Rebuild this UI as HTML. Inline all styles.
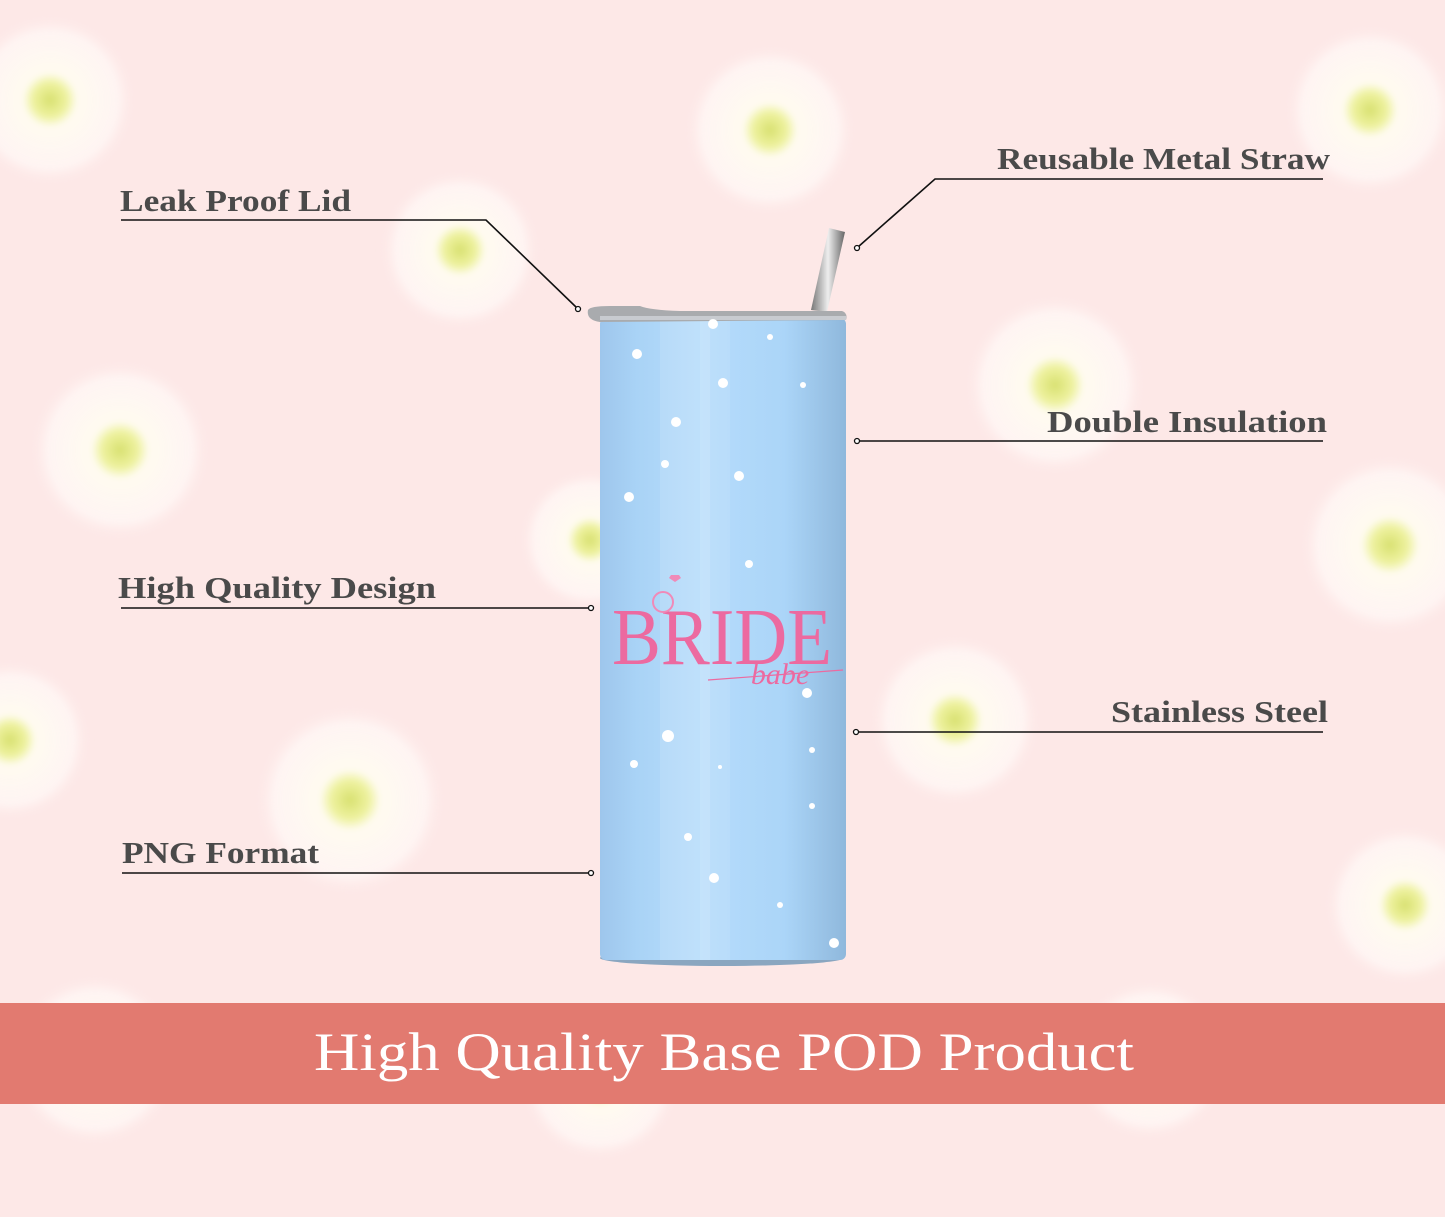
<!DOCTYPE html>
<html><head><meta charset="utf-8"><style>
html,body{margin:0;padding:0}
body{width:1445px;height:1217px;overflow:hidden;background:#fde8e7;position:relative;font-family:"Liberation Serif",serif}
svg{position:absolute;left:0;top:0}
</style></head><body>
<svg width="1445" height="1217" viewBox="0 0 1445 1217">
<defs>
<radialGradient id="fl">
<stop offset="0" stop-color="#d8e070"/>
<stop offset="0.2" stop-color="#eef2a0"/>
<stop offset="0.32" stop-color="#fffbf0"/>
<stop offset="0.8" stop-color="#fff6f4" stop-opacity="0.9"/>
<stop offset="1" stop-color="#fde8e7" stop-opacity="0"/>
</radialGradient>
<linearGradient id="body" x1="0" x2="1">
<stop offset="0" stop-color="#9ec6ec"/>
<stop offset="0.15" stop-color="#a9d3f6"/>
<stop offset="0.4" stop-color="#b6dcfb"/>
<stop offset="0.75" stop-color="#abd5f8"/>
<stop offset="1" stop-color="#8fb8dc"/>
</linearGradient>
<linearGradient id="straw" x1="0" x2="1">
<stop offset="0" stop-color="#777"/><stop offset="0.5" stop-color="#eee"/><stop offset="1" stop-color="#666"/>
</linearGradient>
<filter id="b"><feGaussianBlur stdDeviation="3"/></filter>
</defs>
<g filter="url(#b)">
<circle cx="50" cy="100" r="85" fill="url(#fl)"/>
<circle cx="770" cy="130" r="85" fill="url(#fl)"/>
<circle cx="1370" cy="110" r="85" fill="url(#fl)"/>
<circle cx="460" cy="250" r="80" fill="url(#fl)"/>
<circle cx="120" cy="450" r="90" fill="url(#fl)"/>
<circle cx="1055" cy="385" r="90" fill="url(#fl)"/>
<circle cx="1390" cy="545" r="90" fill="url(#fl)"/>
<circle cx="590" cy="540" r="70" fill="url(#fl)"/>
<circle cx="10" cy="740" r="80" fill="url(#fl)"/>
<circle cx="350" cy="800" r="95" fill="url(#fl)"/>
<circle cx="955" cy="720" r="85" fill="url(#fl)"/>
<circle cx="1405" cy="905" r="80" fill="url(#fl)"/>
<circle cx="95" cy="1060" r="85" fill="url(#fl)"/>
<circle cx="600" cy="1080" r="80" fill="url(#fl)"/>
<circle cx="1150" cy="1060" r="80" fill="url(#fl)"/>
</g>
<!-- straw -->
<polygon points="829,228 845,232 827,312 811,310" fill="url(#straw)"/>
<!-- body -->
<ellipse cx="722" cy="958" rx="122" ry="8" fill="#8aa6c0"/>
<rect x="600" y="318" width="246" height="642" rx="6" fill="url(#body)"/>
<rect x="660" y="318" width="50" height="642" fill="#fff" opacity="0.12"/>
<rect x="700" y="318" width="30" height="642" fill="#fff" opacity="0.1"/>
<!-- lid -->
<path d="M588,310 Q590,306 610,306 L640,306 Q650,310 680,311 L842,311 Q848,313 846,320 L600,322 Q586,320 588,310Z" fill="#a9abae"/>
<rect x="600" y="316" width="246" height="4" fill="#c8cbd0"/>
<!-- hearts -->
<g fill="#fff">
<circle cx="637" cy="354" r="5"/><circle cx="723" cy="383" r="5"/><circle cx="676" cy="422" r="5"/>
<circle cx="665" cy="464" r="4"/><circle cx="739" cy="476" r="5"/><circle cx="629" cy="497" r="5"/>
<circle cx="749" cy="564" r="4"/><circle cx="770" cy="337" r="3"/><circle cx="803" cy="385" r="3"/>
<circle cx="713" cy="324" r="5"/><circle cx="807" cy="693" r="5"/><circle cx="668" cy="736" r="6"/>
<circle cx="634" cy="764" r="4"/><circle cx="812" cy="750" r="3"/><circle cx="720" cy="767" r="2"/>
<circle cx="688" cy="837" r="4"/><circle cx="714" cy="878" r="5"/><circle cx="780" cy="905" r="3"/>
<circle cx="812" cy="806" r="3"/><circle cx="834" cy="943" r="5"/>
</g>
<!-- Bride text -->
<text x="722" y="664" text-anchor="middle" font-family="Liberation Serif,serif" font-size="80" fill="#ec6aa0" textLength="220" lengthAdjust="spacingAndGlyphs">BRIDE</text>
<text x="780" y="684" text-anchor="middle" font-family="Liberation Serif,serif" font-style="italic" font-size="30" fill="#ec6aa0">babe</text>
<path d="M708,680 Q760,676 843,670" stroke="#ec6aa0" stroke-width="1.2" fill="none"/>
<circle cx="663" cy="602" r="10" fill="none" stroke="#f08ab8" stroke-width="2"/>
<path d="M669,578 l6,4 l6,-4 l-2,-3 h-8z" fill="#f08ab8"/>
<!-- callouts -->
<g stroke="#111" stroke-width="1.6" fill="none">
<polyline points="121,220 486,220 576,307"/>
<polyline points="1323,179 935,179 858,247"/>
<line x1="858" y1="441" x2="1323" y2="441"/>
<line x1="121" y1="608" x2="589" y2="608"/>
<line x1="857" y1="732" x2="1323" y2="732"/>
<line x1="122" y1="873" x2="589" y2="873"/>
</g>
<g fill="#fff" stroke="#111" stroke-width="1.3">
<circle cx="578" cy="309" r="2.5"/><circle cx="857" cy="248" r="2.5"/><circle cx="857" cy="441" r="2.5"/>
<circle cx="591" cy="608" r="2.5"/><circle cx="856" cy="732" r="2.5"/><circle cx="591" cy="873" r="2.5"/>
</g>
<g font-family="Liberation Serif,serif" font-weight="bold" font-size="31" fill="#4a4a4a">
<text x="120" y="211" textLength="231" lengthAdjust="spacingAndGlyphs">Leak Proof Lid</text>
<text x="997" y="169" textLength="333" lengthAdjust="spacingAndGlyphs">Reusable Metal Straw</text>
<text x="1047" y="432" textLength="280" lengthAdjust="spacingAndGlyphs">Double Insulation</text>
<text x="118" y="598" textLength="318" lengthAdjust="spacingAndGlyphs">High Quality Design</text>
<text x="1111" y="722" textLength="217" lengthAdjust="spacingAndGlyphs">Stainless Steel</text>
<text x="122" y="863" textLength="197" lengthAdjust="spacingAndGlyphs">PNG Format</text>
</g>
<!-- banner -->
<rect x="0" y="1003" width="1445" height="101" fill="#e27a70"/>
<text x="724" y="1070" text-anchor="middle" font-family="Liberation Serif,serif" font-size="54" fill="#fff" textLength="820" lengthAdjust="spacingAndGlyphs">High Quality Base POD Product</text>
</svg>
</body></html>
